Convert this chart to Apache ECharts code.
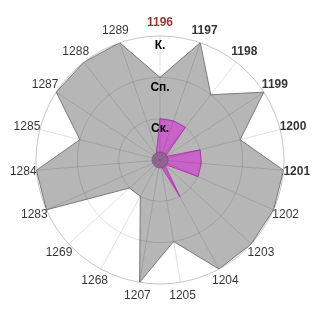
<!DOCTYPE html>
<html>
<head>
<meta charset="utf-8">
<script src="https://cdn.jsdelivr.net/npm/echarts@6/dist/echarts.min.js"></script>
<style>html,body{margin:0;padding:0;background:#fff}#c{width:320px;height:320px}</style>
</head>
<body>
<div id="c"></div>
<script>
const categories = ['1196','1197','1198','1199','1200','1201','1202','1203','1204','1205','1207','1268','1269','1283','1284','1285','1287','1288','1289'];
const grayValues = [2,3,2,3,2,3,3,3,3,2,3,1,1,3,3,2,3,3,3];
const magentaValues = [1,1,1,0.15,1,1,1,0.15,1,0.15,0.15,0.15,0.15,0.15,0.15,0.15,0.15,0.15,0.15];
const radiusLabels = ['', 'Ск.', 'Сп.', 'К.'];
const highlightRed = ['1196'];
const highlightBold = ['1197','1198','1199','1200','1201'];

const N = categories.length;
const FONT = '"Liberation Sans", Arial, sans-serif';
const LINE = 'rgba(0,0,0,0.12)';
function closed(vals) {
  const d = vals.map((v, i) => [v, i]);
  d.push([vals[0], N]);
  return d;
}

const chart = echarts.init(document.getElementById('c'), null, {renderer: 'canvas'});
chart.setOption({
  animation: false,
  textStyle: {fontFamily: FONT},
  polar: {center: ['50%', '50%'], radius: 124},
  angleAxis: {
    type: 'value', min: 0, max: N, interval: 1,
    startAngle: 90, clockwise: true, z: 4,
    axisLine: {show: true, lineStyle: {color: LINE, width: 1}},
    axisTick: {show: false},
    axisLabel: {show: false},
    splitLine: {show: true, lineStyle: {color: LINE, width: 1}}
  },
  radiusAxis: {
    type: 'value', min: 0, max: 3, interval: 1, z: 4,
    axisLine: {show: false},
    axisTick: {show: false},
    splitLine: {show: true, lineStyle: {color: LINE, width: 1}},
    axisLabel: {
      show: true, margin: 0, align: 'center', verticalAlign: 'top',
      padding: [4, 0, 0, 0],
      fontFamily: FONT, fontSize: 12, fontWeight: 'bold', color: '#000',
      formatter: v => radiusLabels[v] || ''
    }
  },
  series: [
    {
      type: 'line', coordinateSystem: 'polar', z: 2,
      symbol: 'none', smooth: false, clip: false,
      lineStyle: {color: '#7a7a7a', width: 1},
      areaStyle: {color: '#b6b6b6', opacity: 1},
      data: closed(grayValues)
    },
    {
      type: 'line', coordinateSystem: 'polar', z: 3,
      symbol: 'none', smooth: false, clip: false,
      lineStyle: {color: '#b83cb8', width: 1},
      areaStyle: {color: '#c864c8', opacity: 1},
      data: closed(magentaValues)
    },
    {
      type: 'scatter', coordinateSystem: 'polar', z: 5, silent: true, clip: false,
      symbolSize: 16,
      itemStyle: {color: '#8c648c', borderColor: '#7a4f7a', borderWidth: 1},
      data: [[0, 0]]
    },
    {
      type: 'scatter', coordinateSystem: 'polar', z: 6, silent: true, clip: false,
      symbolSize: 2, itemStyle: {color: 'rgba(255,255,255,0)'},
      data: categories.map((c, i) => [3.32, i]),
      label: {
        show: true, position: 'inside', color: '#000',
        formatter: p => {
          const c = categories[p.dataIndex];
          if (highlightRed.includes(c)) return '{r|' + c + '}';
          if (highlightBold.includes(c)) return '{b|' + c + '}';
          return '{n|' + c + '}';
        },
        rich: {
          r: {fontFamily: FONT, fontSize: 12, fontWeight: 'bold', color: '#800000'},
          b: {fontFamily: FONT, fontSize: 12, fontWeight: 'bold', color: '#000'},
          n: {fontFamily: FONT, fontSize: 12, color: '#000'}
        }
      }
    }
  ]
});
</script>
</body>
</html>
